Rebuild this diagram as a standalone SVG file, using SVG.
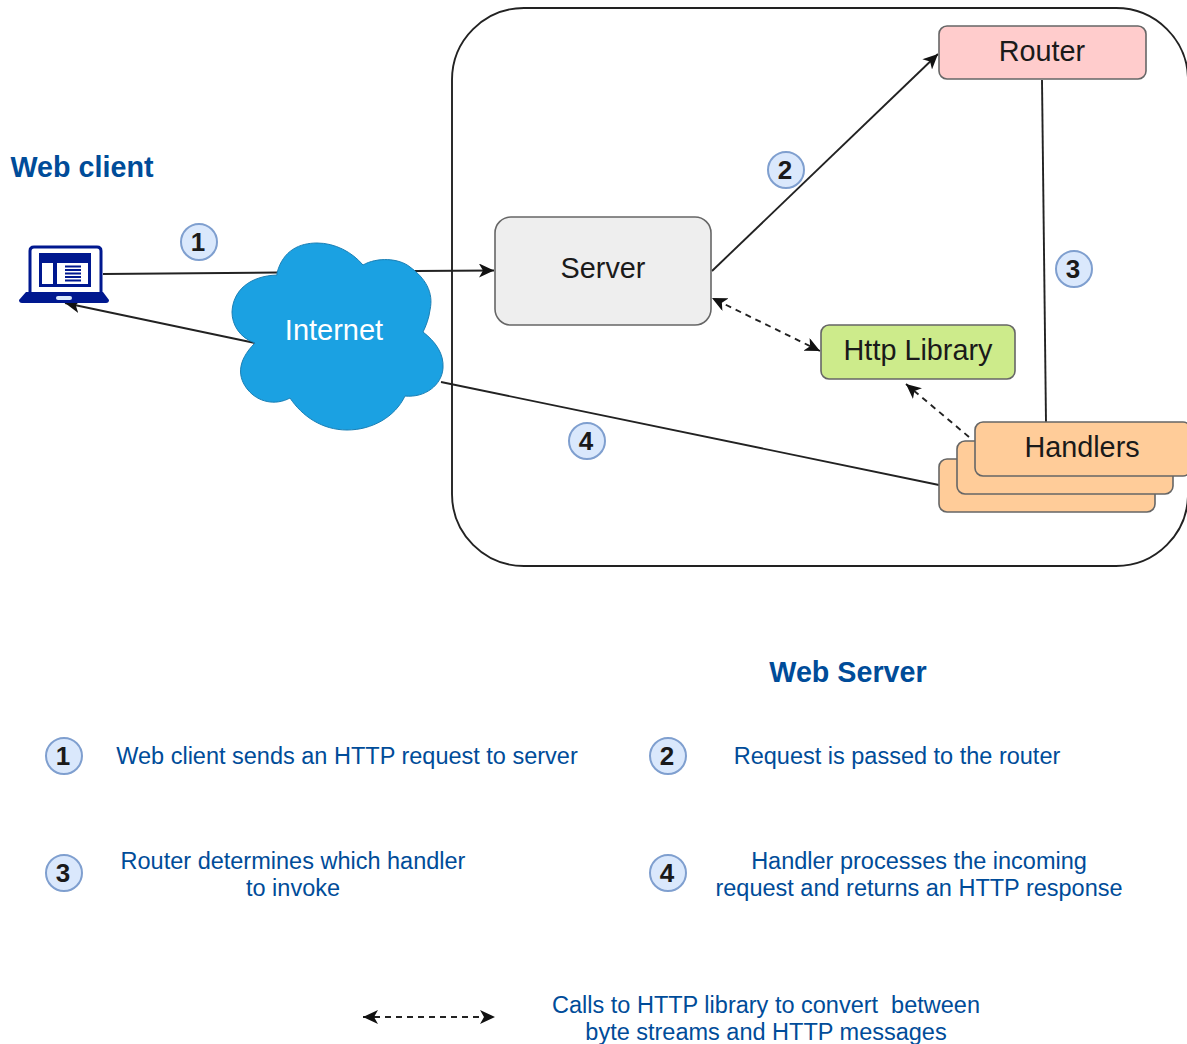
<svg xmlns="http://www.w3.org/2000/svg" width="1187" height="1044" viewBox="0 0 1187 1044">
<style>
text{font-family:"Liberation Sans",Arial,sans-serif;text-anchor:middle}
.box{stroke:#666;stroke-width:1.6}
.lbl{font-size:28.800px;fill:#1a1a1a}
.title{font-size:28.700px;font-weight:bold;fill:#004c99;}
.desc{font-size:23.500px;fill:#004c99;white-space:pre}
.badge circle{fill:#dae8fc;stroke:#7f9fcf;stroke-width:2}
.badge text{font-size:26px;font-weight:bold;fill:#1a1a1a}
.con{fill:none;stroke:#222;stroke-width:1.900}
.dash{stroke-dasharray:6 5}
</style>
<defs>
<marker id="a" viewBox="0 0 16 14" refX="15" refY="7" markerWidth="16" markerHeight="14" markerUnits="userSpaceOnUse" orient="auto-start-reverse"><path d="M0 0L15 7L0 14L4 7Z" fill="#111"/></marker>
</defs>
<rect id="web-server-frame" x="452" y="8" width="736" height="558" rx="72" fill="#fff" stroke="#222" stroke-width="1.900"/>
<g id="connectors">
<path class="con" d="M103 274L278 272.500"/>
<path class="con" d="M415 271L494 270.500" marker-end="url(#a)"/>
<path class="con" d="M255 343L65 303" marker-end="url(#a)"/>
<path class="con" d="M712 271L938 54" marker-end="url(#a)"/>
<path class="con" d="M1042 80L1046 422" stroke="#555"/>
<path class="con" d="M441 382L939 485"/>
<path class="con dash" d="M820 351L712 298" marker-start="url(#a)" marker-end="url(#a)"/>
<path class="con dash" d="M969 437L906 384" marker-end="url(#a)"/>
<path class="con dash" d="M363 1017H495" marker-start="url(#a)" marker-end="url(#a)"/>
</g>
<g id="web-client">
<text class="title" x="82" y="177">Web client</text>
<path d="M30 294V251Q30 247 34 247H97Q101 247 101 251V294Z" fill="#fff" stroke="#00188f" stroke-width="3"/>
<rect x="39" y="253" width="52" height="34" fill="#00188f"/>
<rect x="42" y="263" width="11" height="21" fill="#fff"/>
<rect x="57" y="263" width="31" height="21" fill="#fff"/>
<path d="M65 266.500H81M65 270H81M65 273.500H81M65 277H81M65 280.500H81" stroke="#00188f" stroke-width="1.800"/>
<path d="M26 292H103L109 300Q109 303 106 303H22Q19 303 19 300Z" fill="#00188f"/>
<rect x="56" y="296" width="16" height="4" rx="2" fill="#dae8fc"/>
</g>
<g id="internet">
<path d="M277 273C283 250 300 243 317 243C335 243 352 252 363 265C377 257 399 258 410 267C425 278 434 292 430 310C429 318 426 326 423 332C436 342 444 354 443 368C442 385 425 398 405 396C395 417 372 430 347 430C322 430 302 416 290 398C275 406 258 402 248 390C238 378 236 362 255 343C240 338 232 325 232 312C233 290 250 276 277 275Z" fill="#1ba1e2" stroke="#1a7fb5" stroke-width="1"/>
<text x="334" y="340" font-size="29" fill="#fff">Internet</text>
</g>
<g id="server"><rect class="box" x="495" y="217" width="216" height="108" rx="16" fill="#eee"/><text class="lbl" x="603" y="278">Server</text></g>
<g id="router"><rect class="box" x="939" y="26" width="207" height="53" rx="8" fill="#ffcccc"/><text class="lbl" x="1042" y="61">Router</text></g>
<g id="http-library"><rect class="box" x="821" y="325" width="194" height="54" rx="8" fill="#cdeb8b"/><text class="lbl" x="918" y="360">Http Library</text></g>
<g id="handlers">
<rect class="box" x="939" y="459" width="216" height="53" rx="8" fill="#ffcc99"/>
<rect class="box" x="957" y="441" width="216" height="53" rx="8" fill="#ffcc99"/>
<rect class="box" x="975" y="422" width="216" height="54" rx="8" fill="#ffcc99"/>
<text class="lbl" x="1082" y="457">Handlers</text>
</g>
<g class="badge" id="b1"><circle cx="199" cy="242" r="18"/><text x="198" y="251">1</text></g>
<g class="badge" id="b2"><circle cx="786" cy="170" r="18"/><text x="785" y="179">2</text></g>
<g class="badge" id="b3"><circle cx="1074" cy="269" r="18"/><text x="1073" y="278">3</text></g>
<g class="badge" id="b4"><circle cx="587" cy="441" r="18"/><text x="586" y="450">4</text></g>
<text class="title" x="848" y="682" id="web-server-title">Web Server</text>
<g class="badge" id="k1"><circle cx="64" cy="756" r="18"/><text x="63" y="765">1</text></g>
<g class="badge" id="k2"><circle cx="668" cy="756" r="18"/><text x="667" y="765">2</text></g>
<g class="badge" id="k3"><circle cx="64" cy="873" r="18"/><text x="63" y="882">3</text></g>
<g class="badge" id="k4"><circle cx="668" cy="873" r="18"/><text x="667" y="882">4</text></g>
<text class="desc" x="347" y="764">Web client sends an HTTP request to server</text>
<text class="desc" x="897" y="764">Request is passed to the router</text>
<text class="desc" x="293" y="869">Router determines which handler</text>
<text class="desc" x="293" y="896">to invoke</text>
<text class="desc" x="919" y="869">Handler processes the incoming</text>
<text class="desc" x="919" y="896">request and returns an HTTP response</text>
<text class="desc" x="766" y="1013">Calls to HTTP library to convert  between</text>
<text class="desc" x="766" y="1040">byte streams and HTTP messages</text>
</svg>
